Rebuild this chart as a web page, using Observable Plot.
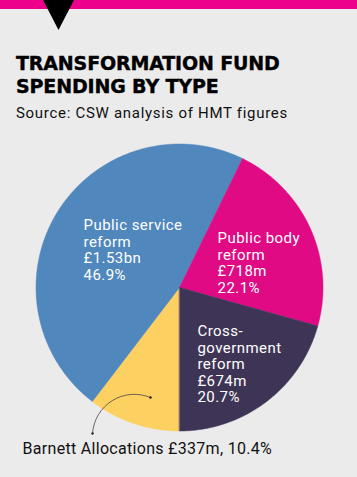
<!DOCTYPE html>
<html><head><meta charset="utf-8">
<script src="https://cdn.jsdelivr.net/npm/d3@7"></script>
<script src="https://cdn.jsdelivr.net/npm/@observablehq/plot@0.6"></script>
<style>
html,body{margin:0;padding:0;background:#ebebeb;width:357px;height:477px;overflow:hidden;font-family:Roboto,sans-serif;}
#bar{position:absolute;left:0;top:0;width:357px;height:9px;background:#ec008c;}
#tri{position:absolute;left:43px;top:0;width:31px;height:30px;background:#000;clip-path:polygon(0 0,100% 0,50% 100%);z-index:2;}
#title{position:absolute;left:16px;top:52px;margin:0;font-family:"DejaVu Sans",sans-serif;font-weight:bold;font-size:19px;line-height:23px;color:#000;white-space:nowrap;letter-spacing:-0.15px;-webkit-text-stroke:0.4px #000;}
#sub{position:absolute;left:16px;top:103.5px;margin:0;font-family:Roboto,sans-serif;font-size:15px;line-height:18px;color:#111;white-space:nowrap;letter-spacing:0.7px;}
#chart{position:absolute;left:0;top:0;}
#chart svg text{letter-spacing:0.45px;}
#chart svg g.bottomlabel text{letter-spacing:0.3px;}
</style></head>
<body>
<div id="bar"></div><div id="tri"></div>
<div id="title">TRANSFORMATION FUND<br>SPENDING BY TYPE</div>
<div id="sub">Source: CSW analysis of HMT figures</div>
<div id="chart"></div>
<script>
// Data (clockwise from 6 o'clock)
const names = ["Barnett Allocations", "Public service reform", "Public body reform", "Cross-government reform"];
const amounts = ["£337m", "£1.53bn", "£718m", "£674m"];
const shares = [10.4, 46.9, 22.1, 20.7];
const colors = ["#fdd062", "#5087bc", "#df0a84", "#3e3556"];
const labels = ["", "Public service\nreform\n£1.53bn\n46.9%", "Public body\nreform\n£718m\n22.1%", "Cross-\ngovernment\nreform\n£674m\n20.7%"];
// label anchors (unit-circle coordinates, y downward)
const labelX = [null, -0.669, 0.265, 0.125];
const labelY = [null, -0.481, -0.390, 0.258];
const barnettLabel = "Barnett Allocations £337m, 10.4%";
const leader = [{x1: -0.606, y1: 1.017, x2: -0.202, y2: 0.767}];
const bottomLabel = [{x: -1.094, y: 1.080, text: barnettLabel}];

const rows = names.map((n, i) => ({name: n, value: shares[i]}));
const arcs = d3.pie().value(d => d.value).sort(null).startAngle(Math.PI).endAngle(3 * Math.PI)(rows);
const pts = [];
arcs.forEach(a => {
  pts.push({name: a.data.name, x: 0, y: 0});
  const n = Math.max(2, Math.ceil((a.endAngle - a.startAngle) / 0.01));
  for (let k = 0; k <= n; k++) {
    const t = a.startAngle + (a.endAngle - a.startAngle) * k / n;
    pts.push({name: a.data.name, x: Math.sin(t), y: -Math.cos(t)});
  }
});
const labelRows = names.map((n, i) => ({text: labels[i], x: labelX[i], y: labelY[i]})).filter(d => d.text);

const cx = 179, cy = 287, r = 143.5;
const chart = Plot.plot({
  width: 357, height: 477,
  margin: 0,
  style: {background: "transparent", fontFamily: "Roboto, sans-serif", overflow: "visible"},
  x: {domain: [-1, 1], range: [cx - r, cx + r], axis: null},
  y: {domain: [-1, 1], range: [cy - r, cy + r], axis: null},
  color: {domain: names, range: colors},
  marks: [
    Plot.line(pts, {x: "x", y: "y", z: "name", fill: "name", stroke: "name", strokeWidth: 0.5, curve: "linear-closed"}),
    Plot.text(labelRows, {x: "x", y: "y", text: "text", textAnchor: "start", lineAnchor: "top", lineHeight: 1.1, fill: "white", fontSize: 15}),
    Plot.arrow(leader, {x1: "x1", y1: "y1", x2: "x2", y2: "y2", bend: 55, headLength: 0, stroke: "#444", strokeWidth: 0.8}),
    Plot.dot(leader, {x: "x1", y: "y1", r: 1.2, fill: "#222"}),
    Plot.dot(leader, {x: "x2", y: "y2", r: 1.2, fill: "#222"}),
    Plot.text(bottomLabel, {x: "x", y: "y", text: "text", textAnchor: "start", lineAnchor: "top", fill: "#111", fontSize: 16, className: "bottomlabel"})
  ]
});
document.getElementById("chart").appendChild(chart);
</script>
</body></html>
